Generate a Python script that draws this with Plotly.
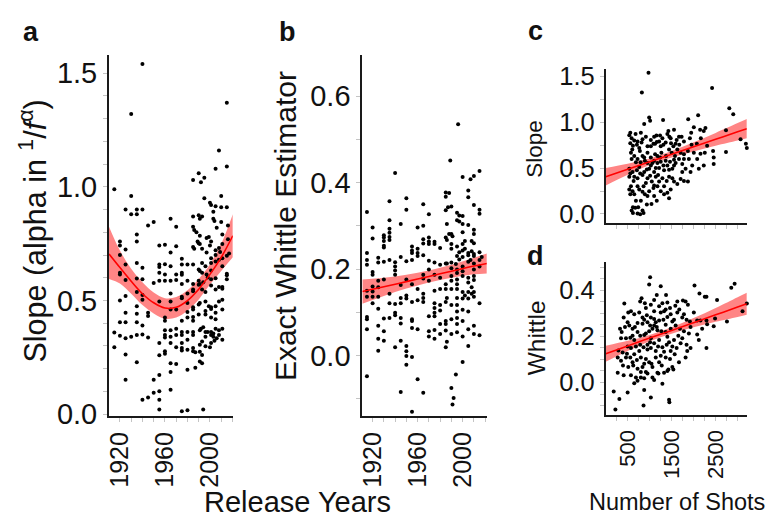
import plotly.graph_objects as go

FONT = "Liberation Sans, Arial, Helvetica, sans-serif"
INK = "#111111"

# ---------------- panel a : release year vs slope ----------------
a_year = [1940,1930,2015,1915,1930,2008,2015,2005,1990,1985,1995,1992,1995,2010,2000,2001,2005,2010,2015,1925,
          1935,1940,1930,1935,2003,1985,1990,1993,1991,2003,2004,2010,1965,1970,1945,1950,1985,1986,1988,1991,
          2006,2011,2016,1935,1920,1935,1997,1999,2001,2016,1989,
          1920,1925,1955,1960,1970,1965,1985,1986,1990,1991,1993,2000,2005,2008,2009,2011,2017,2015,
          1920,1920,1920,1925,1935,1940,1955,1955,1960,1965,1975,1975,1980,1985,1990,1993,1996,1997,2001,2001,
          2005,2005,2008,2011,2011,2001,1993,1991,2015,2015,2015,1998,1997,1975,1975,1970,1970,1965,1955,1960,
          1925,1935,1940,1950,1955,1960,1975,1980,1985,1990,1990,1991,1994,2001,2001,2005,2008,2011,2011,2005,
          1996,1993,1985,1985,1980,1975,1965,1940,1935,
          1920,1925,1935,1940,1945,1945,1955,1965,1965,1970,1975,1980,1980,1985,1985,1990,1991,1996,1996,1999,
          2001,2005,2005,2008,2011,2011,2001,
          1920,1925,1925,1935,1935,1940,1960,1960,1965,1970,1975,1980,1985,1985,1990,1991,1992,1994,1996,2001,
          2005,2005,2008,2008,2011,1975,1980,1975,1960,1960,1965,1970,1985,1985,1996,1998,2001,2001,2003,2003,
          2006,1996,
          1915,1920,1925,1930,1935,1940,1945,1955,1960,1965,1975,1975,1980,1980,1985,1987,1991,1993,1996,2000,
          2001,2004,2011,1915,1925,1955,1960,1960,1970,1975,1985,1991,1993,1991,1993,1935,1965,1970,
          1925,1955,1965,1950,1980,1987,1940,1945,1950,1955,1955,1965,1955,1975,1980,1994]
a_slope = [1.54,1.32,1.37,0.99,0.96,1.16,1.09,1.08,1.06,1.03,1.04,1.02,0.95,0.96,0.93,0.92,0.915,0.91,0.91,0.90,
           0.90,0.90,0.88,0.88,0.89,0.87,0.875,0.87,0.86,0.86,0.85,0.845,0.86,0.825,0.83,0.845,0.825,0.81,0.80,0.785,
           0.82,0.79,0.83,0.79,0.76,0.76,0.775,0.78,0.76,0.77,0.76,
           0.742,0.725,0.742,0.745,0.739,0.711,0.735,0.728,0.752,0.749,0.728,0.742,0.721,0.731,0.714,0.749,0.707,0.697,
           0.700,0.622,0.615,0.658,0.665,0.644,0.658,0.648,0.660,0.651,0.684,0.658,0.658,0.658,0.637,0.665,0.651,0.711,0.686,0.665,
           0.700,0.672,0.679,0.651,0.686,0.632,0.622,0.630,0.618,0.611,0.594,0.601,0.615,0.622,0.613,0.615,0.590,0.587,0.622,0.615,
           0.590,0.597,0.594,0.577,0.587,0.587,0.573,0.587,0.573,0.587,0.569,0.573,0.580,0.594,0.566,0.598,0.559,0.559,0.552,0.548,
           0.538,0.548,0.548,0.541,0.531,0.517,0.531,0.524,0.538,
           0.500,0.520,0.475,0.503,0.446,0.432,0.496,0.496,0.460,0.460,0.510,0.489,0.449,0.460,0.470,0.482,0.489,0.496,0.454,0.475,
           0.470,0.475,0.446,0.496,0.503,0.460,0.463,
           0.404,0.446,0.404,0.442,0.404,0.390,0.425,0.411,0.369,0.376,0.411,0.425,0.428,0.411,0.439,0.369,0.376,0.383,0.439,0.425,
           0.418,0.376,0.369,0.348,0.376,0.362,0.362,0.348,0.369,0.348,0.341,0.348,0.362,0.348,0.362,0.362,0.362,0.348,0.355,0.341,
           0.334,0.341,
           0.359,0.345,0.334,0.341,0.348,0.351,0.337,0.313,0.337,0.313,0.313,0.291,0.327,0.284,0.291,0.273,0.306,0.320,0.299,0.294,
           0.313,0.323,0.327,0.294,0.263,0.259,0.277,0.266,0.294,0.280,0.277,0.275,0.260,0.232,0.224,0.228,0.224,0.221,
           0.151,0.172,0.186,0.151,0.196,0.204,0.063,0.073,0.094,0.101,0.063,0.108,0.021,0.013,0.017,0.021]
a_fit_year = [1910.3, 1920, 1930, 1940, 1950, 1960, 1970, 1980, 1990, 2000, 2010, 2020.3]
a_fit_mean = [0.705, 0.645, 0.585, 0.530, 0.490, 0.467, 0.470, 0.500, 0.550, 0.615, 0.690, 0.785]
a_fit_low  = [0.595, 0.575, 0.530, 0.480, 0.443, 0.420, 0.425, 0.455, 0.505, 0.570, 0.630, 0.690]
a_fit_high = [0.825, 0.720, 0.640, 0.580, 0.535, 0.510, 0.515, 0.545, 0.595, 0.660, 0.750, 0.880]

# ---------------- panel b : release year vs exact Whittle estimator ----------------
b_year = [1996,1989,1940,2000,2015,2010,2007,1915,1920,1920,1935,1935,1950,1950,1965,1970,1945,1960,1965,1985,
          1988,1985,1985,1987,1990,2005,2005,2010,2015,2015,1995,1997,2000,1995,1997,2000,2005,1986,1990,1988,
          1985,1986,1991,2010,2010,2000,2000,2002,2008,2010,1930,1930,1930,1930,1930,1935,1935,1935,1935,1955,
          1955,1955,1960,1960,1965,1965,1970,1970,1970,1975,1975,1980,1990,1990,1995,1997,2000,2002,2005,2008,
          2010,2015,1915,1915,1925,1930,1935,1940,1945,1950,1955,1960,1965,1970,1980,1986,1990,1995,1997,2000,
          2005,2007,2010,2015,2017,
          1915,1925,1975,1985,1994,2005,2010,
          1940,1920,1920,1940,1940,1970,1990,1995,2000,2000,2010,2015,1995,
          1915,1915,1920,1920,1920,1925,1925,1925,1930,1935,1945,1950,1955,1965,1965,1970,1975,1980,1985,1990,
          1990,1995,1995,2000,2005,2005,2008,2010,2010,1990,1980,1985,1975,1965,1965,1960,1950,1950,1945,1995,
          2000,2002,2005,2008,2010,2010,2005,1995,1986,2000,
          1920,1925,1935,1940,1945,1955,1960,1965,1975,1975,1975,1975,1980,1980,1985,1990,1995,1995,2000,2005,
          2015,1915,1915,1930,1935,1940,1940,1945,1945,1955,1955,1970,1985,1985,1990,1995,2000,1995,
          1915,1925,1930,1925,1930,1940,1945,1950,1950,1955,1960,1970,1970,1975,1975,1980,1980,1985,1985,1986,
          1990,1995,2000,2005,2005,2010,2010,2015,1925,
          1915,1945,1950,1955,1960,1965,2000,1994,1990,1992,1991,1955,1950]
b_whittle = [0.535,0.451,0.422,0.413,0.427,0.415,0.408,0.332,0.296,0.271,0.357,0.313,0.364,0.337,0.350,0.327,0.304,0.296,0.300,0.377,
             0.376,0.367,0.336,0.343,0.345,0.382,0.366,0.348,0.337,0.328,0.330,0.324,0.323,0.313,0.310,0.304,0.302,0.304,0.281,0.281,
             0.273,0.267,0.276,0.291,0.281,0.285,0.258,0.265,0.265,0.260,0.278,0.273,0.265,0.254,0.250,0.293,0.284,0.274,0.267,0.252,
             0.243,0.237,0.247,0.237,0.269,0.259,0.273,0.264,0.258,0.263,0.258,0.249,0.258,0.247,0.252,0.239,0.243,0.247,0.237,0.241,
             0.235,0.239,0.237,0.221,0.226,0.217,0.221,0.216,0.228,0.218,0.221,0.230,0.232,0.219,0.210,0.213,0.215,0.230,0.222,0.228,
             0.232,0.221,0.230,0.221,0.228,
             0.210,0.215,0.215,0.213,0.212,0.217,0.213,
             0.206,0.193,0.187,0.197,0.187,0.199,0.202,0.199,0.206,0.195,0.199,0.206,0.191,
             0.150,0.136,0.160,0.148,0.136,0.173,0.158,0.136,0.176,0.143,0.163,0.176,0.165,0.187,0.178,0.173,0.187,0.180,0.165,0.184,
             0.173,0.176,0.165,0.184,0.180,0.169,0.158,0.184,0.175,0.154,0.154,0.154,0.150,0.143,0.133,0.154,0.139,0.132,0.133,0.154,
             0.147,0.139,0.147,0.143,0.136,0.147,0.132,0.133,0.133,0.132,
             0.121,0.108,0.121,0.119,0.121,0.124,0.128,0.124,0.121,0.110,0.099,0.091,0.117,0.104,0.124,0.117,0.117,0.102,0.106,0.102,
             0.121,0.089,0.084,0.086,0.087,0.099,0.093,0.087,0.074,0.084,0.080,0.091,0.080,0.073,0.084,0.087,0.080,0.073,
             0.061,0.069,0.056,0.039,0.034,0.019,0.034,0.022,0.010,0.064,0.061,0.056,0.044,0.059,0.039,0.073,0.050,0.058,0.019,0.032,
             0.050,0.054,0.044,0.061,0.022,0.069,0.050,0.047,0.011,
             -0.048,-0.084,-0.021,-0.003,-0.055,-0.086,-0.015,-0.044,-0.075,-0.098,-0.113,-0.130,-0.001]
b_fit_year = [1910.9, 1930, 1950, 1970, 1990, 2010, 2021.5]
b_fit_mean = [0.148, 0.159, 0.171, 0.183, 0.195, 0.207, 0.213]
b_fit_low  = [0.120, 0.138, 0.155, 0.169, 0.180, 0.188, 0.190]
b_fit_high = [0.176, 0.180, 0.187, 0.197, 0.210, 0.226, 0.236]

# ---------------- panel c : number of shots vs slope ----------------
c_shots = [974,823,2420,2811,2901,989,1011,1305,876,1877,2103,2269,2231,2005,560,680,590,800,1102,1155,
           1237,1426,1403,1554,1667,1727,1915,2148,2164,1945,2736,3067,3188,3210,560,620,816,951,1124,1162,
           1313,1448,1486,1591,1674,1780,1953,2073,575,650,778,838,951,1027,1124,1177,1267,1373,1501,1576,
           1704,1870,2005,2156,2254,2442,2736,605,725,793,951,1027,1102,1177,1252,1365,1403,1554,1667,1780,
           1892,1968,2081,2231,2457,537,612,710,876,989,1102,1215,1328,1441,1554,1742,1930,2118,537,635,
           725,838,951,1049,1139,1215,1290,1388,1516,1629,1870,575,725,861,989,1087,1177,1252,1403,560,
           650,763,891,951,1441,1042,800,620,590,673,620,725,785,861,537,876,1027,1252,725,1441,
           1629,1780,2307,2457,
           537,650,710,763,838,914,1027,1087,1215,1290,1365,1478,1539,1614,590,688,763,891,936,1064,
           1139,1237,1313,1463,1516,1591,1742,1817,560,650,785,914,1011,1102,1192,1328,1441,1554,1704,1780,
           612,688,838,936,1102,1162,1328,1478,740,838]
c_slope = [1.538,1.322,1.370,1.151,1.085,1.050,1.015,1.022,0.980,1.032,1.074,0.935,0.903,0.945,0.883,0.869,0.823,0.883,0.841,0.855,
           0.855,0.903,0.869,0.917,0.841,0.841,0.823,0.917,0.823,0.883,0.910,0.813,0.764,0.719,0.771,0.743,0.778,0.736,0.764,0.782,
           0.754,0.841,0.771,0.764,0.754,0.789,0.754,0.764,0.667,0.632,0.684,0.632,0.667,0.614,0.649,0.632,0.667,0.632,0.667,0.632,
           0.667,0.684,0.667,0.656,0.667,0.684,0.674,0.701,0.597,0.562,0.555,0.527,0.579,0.555,0.569,0.579,0.527,0.590,0.597,0.597,
           0.597,0.527,0.597,0.527,0.545,0.492,0.458,0.475,0.458,0.492,0.458,0.499,0.475,0.482,0.527,0.458,0.458,0.492,0.405,0.360,
           0.388,0.423,0.388,0.353,0.405,0.353,0.388,0.360,0.388,0.325,0.353,0.301,0.301,0.301,0.248,0.283,0.301,0.248,0.231,0.214,
           0.214,0.266,0.214,0.196,0.172,0.109,0.144,0.074,0.039,0.067,0.012,0.005,-0.002,0.012,0.266,0.614,0.736,0.736,0.789,0.701,
           0.701,0.649,0.743,0.614,
           0.858,0.799,0.754,0.719,0.813,0.841,0.806,0.764,0.789,0.823,0.778,0.823,0.736,0.806,0.597,0.562,0.510,0.579,0.485,0.555,
           0.499,0.614,0.527,0.569,0.492,0.555,0.545,0.492,0.440,0.405,0.440,0.336,0.416,0.311,0.423,0.301,0.405,0.353,0.381,0.360,
           0.248,0.144,0.241,0.102,0.196,0.144,0.214,0.266,0.074,0.039]
c_fit_shots = [2, 500, 1000, 1500, 2000, 2500, 3000, 3210]
c_fit_mean  = [0.405, 0.486, 0.568, 0.650, 0.731, 0.812, 0.894, 0.928]
c_fit_low   = [0.310, 0.426, 0.533, 0.615, 0.681, 0.742, 0.799, 0.823]
c_fit_high  = [0.500, 0.546, 0.603, 0.685, 0.781, 0.882, 0.989, 1.033]

# ---------------- panel d : number of shots vs Whittle ----------------
d_shots = [1539,1011,989,1252,816,785,891,424,1373,1162,2020,2133,2254,2292,2533,2856,2932,1757,1817,1870,
           1403,1584,1463,1215,1102,575,514,650,409,326,364,439,499,537,612,665,725,838,876,951,
           1027,1102,1139,1215,1313,1403,1478,1554,1629,1674,1742,1840,1915,2005,2081,2156,2292,2487,2758,3210,
           3225,3112,349,462,560,650,785,876,989,1064,1162,1267,1365,1478,1591,1689,1780,1892,2081,2118,
           2457,2307,289,386,499,575,688,785,861,951,1027,1102,1192,1290,1388,1516,1614,1704,1840,1855,
           1930,2292,274,349,462,560,650,710,800,914,989,1042,1139,1252,1365,1463,1569,1667,1817,394,
           514,627,725,838,914,1064,1177,1275,1403,1516,274,409,575,688,800,951,1064,1200,1328,1426,
           1539,650,725,876,1102,1290,183,311,499,876,1027,1441,1448,861,221,
           914,1027,1290,1328,763,838,1011,1177,1365,1516,1252,1102,914,1027,1215,1403,1554,1742,725,612,
           951,1139,1328,1478,763,484,612,1215,876,800,1011,1441,1652,1930,2194,1780,936,1102,1629,1365]
d_whittle = [0.540,0.457,0.426,0.418,0.366,0.352,0.345,0.343,0.380,0.380,0.422,0.387,0.373,0.373,0.359,0.412,0.429,0.356,0.352,0.338,
             0.348,0.334,0.324,0.331,0.310,0.310,0.304,0.297,0.283,0.234,0.220,0.241,0.262,0.248,0.234,0.241,0.259,0.283,0.273,0.262,
             0.283,0.276,0.262,0.269,0.273,0.285,0.297,0.273,0.304,0.317,0.283,0.273,0.265,0.304,0.269,0.269,0.269,0.278,0.265,0.343,
             0.273,0.310,0.192,0.192,0.195,0.185,0.203,0.206,0.223,0.234,0.241,0.223,0.220,0.234,0.248,0.234,0.223,0.213,0.209,0.185,
             0.245,0.253,0.139,0.130,0.157,0.150,0.157,0.164,0.153,0.164,0.150,0.171,0.157,0.153,0.164,0.157,0.150,0.171,0.164,0.137,
             0.150,0.150,0.109,0.095,0.109,0.109,0.123,0.098,0.109,0.102,0.088,0.081,0.109,0.116,0.109,0.102,0.123,0.088,0.109,0.074,
             0.067,0.074,0.060,0.067,0.046,0.067,0.042,0.074,0.050,0.067,0.042,0.032,0.032,0.022,0.022,0.039,0.022,0.039,0.042,0.056,
             0.056,-0.003,0.008,0.018,0.011,-0.005,-0.039,-0.072,-0.044,-0.033,-0.065,-0.075,-0.086,-0.100,-0.117,
             0.324,0.338,0.345,0.310,0.304,0.255,0.248,0.227,0.251,0.265,0.304,0.248,0.213,0.192,0.185,0.199,0.185,0.192,0.220,0.203,
             0.143,0.137,0.134,0.137,0.137,0.125,0.088,0.088,0.081,0.046,0.175,0.175,0.203,0.241,0.234,0.297,0.292,0.359,0.352,0.317]
d_fit_shots = [2, 500, 1000, 1500, 2000, 2500, 3000, 3210]
d_fit_mean  = [0.125, 0.159, 0.193, 0.226, 0.260, 0.294, 0.328, 0.342]
d_fit_low   = [0.090, 0.137, 0.179, 0.212, 0.240, 0.264, 0.285, 0.294]
d_fit_high  = [0.160, 0.181, 0.207, 0.240, 0.280, 0.324, 0.371, 0.390]

year_ticks = [1920, 1960, 2000]
shot_ticks = [500, 1500, 2500]

fig = go.Figure()


def add_panel(xa, ya, xs, ys, fx, fm, flo, fhi):
    fig.add_trace(go.Scatter(x=fx, y=flo, mode="lines", line=dict(width=0, shape="spline"),
                             hoverinfo="skip", showlegend=False, xaxis=xa, yaxis=ya))
    fig.add_trace(go.Scatter(x=fx, y=fhi, mode="lines", line=dict(width=0, shape="spline"),
                             fill="tonexty", fillcolor="rgba(255,0,0,0.48)",
                             hoverinfo="skip", showlegend=False, xaxis=xa, yaxis=ya))
    fig.add_trace(go.Scatter(x=xs, y=ys, mode="markers", cliponaxis=False,
                             marker=dict(color="black", size=4, line=dict(width=0)),
                             showlegend=False, xaxis=xa, yaxis=ya))
    fig.add_trace(go.Scatter(x=fx, y=fm, mode="lines", line=dict(color="#ff0000", width=1.6, shape="spline"),
                             showlegend=False, xaxis=xa, yaxis=ya))


add_panel("x", "y", a_year, a_slope, a_fit_year, a_fit_mean, a_fit_low, a_fit_high)
add_panel("x2", "y2", b_year, b_whittle, b_fit_year, b_fit_mean, b_fit_low, b_fit_high)
add_panel("x3", "y3", c_shots, c_slope, c_fit_shots, c_fit_mean, c_fit_low, c_fit_high)
add_panel("x4", "y4", d_shots, d_whittle, d_fit_shots, d_fit_mean, d_fit_low, d_fit_high)

TICKC = "#c4c4c4"


def xcfg(domain, anchor, rng, vals, minor, size, show=True):
    return dict(domain=domain, anchor=anchor, range=rng, tickmode="array", tickvals=vals,
                ticktext=[str(v) for v in vals], showticklabels=show, tickangle=-90,
                showline=True, linecolor="#1a1a1a", linewidth=2, showgrid=False, zeroline=False,
                ticks="outside", ticklen=4, tickwidth=1, tickcolor=TICKC,
                minor=dict(dtick=minor, tick0=0, ticks="outside", ticklen=4, tickwidth=1, tickcolor=TICKC, showgrid=False),
                tickfont=dict(family=FONT, size=size, color=INK))


def ycfg(domain, anchor, rng, vals, texts, minor, size):
    return dict(domain=domain, anchor=anchor, range=rng, tickmode="array", tickvals=vals, ticktext=texts,
                showline=True, linecolor="#1a1a1a", linewidth=2, showgrid=False, zeroline=False,
                ticks="outside", ticklen=4, tickwidth=1, tickcolor=TICKC,
                minor=dict(dtick=minor, tick0=0, ticks="outside", ticklen=4, tickwidth=1, tickcolor=TICKC, showgrid=False),
                tickfont=dict(family=FONT, size=size, color=INK))


W, H = 767, 530
ya_dom = [1 - 426 / H, 1 - 50 / H]
fig.update_layout(
    width=W, height=H, margin=dict(l=0, r=0, t=0, b=0),
    paper_bgcolor="white", plot_bgcolor="white", showlegend=False,
    font=dict(family=FONT, color=INK),
    xaxis=xcfg([104.7 / W, 229.3 / W], "y", [1910.3, 2020.3], year_ticks, 10, 25),
    yaxis=ycfg(ya_dom, "x", [-0.0085, 1.58], [0, 0.5, 1.0, 1.5], ["0.0", "0.5", "1.0", "1.5"], 0.1, 29),
    xaxis2=xcfg([359.7 / W, 485 / W], "y2", [1910.9, 2021.5], year_ticks, 10, 25),
    yaxis2=ycfg(ya_dom, "x2", [-0.14, 0.695], [0, 0.2, 0.4, 0.6], ["0.0", "0.2", "0.4", "0.6"], 0.1, 29),
    xaxis3=xcfg([604.7 / W, 746.7 / W], "y3", [2, 3210], shot_ticks, 250, 22, show=False),
    yaxis3=ycfg([1 - 225 / H, 1 - 65 / H], "x3", [-0.099, 1.573], [0, 0.5, 1.0, 1.5], ["0.0", "0.5", "1.0", "1.5"], 0.25, 25.5),
    xaxis4=xcfg([604.7 / W, 746.7 / W], "y4", [2, 3210], shot_ticks, 250, 22),
    yaxis4=ycfg([1 - 425 / H, 1 - 265 / H], "x4", [-0.142, 0.526], [0, 0.2, 0.4], ["0.0", "0.2", "0.4"], 0.05, 25.5),
)


def note(text, px, py, size, bold=False, angle=0):
    fig.add_annotation(text=("<b>%s</b>" % text) if bold else text, x=px / W, y=1 - py / H,
                       xref="paper", yref="paper", xanchor="center", yanchor="middle",
                       showarrow=False, textangle=angle,
                       font=dict(family=FONT, size=size, color=INK))


note("a", 26, 25.6, 27, bold=True)
note("b", 284, 25.6, 27, bold=True)
note("c", 534, 24.5, 27, bold=True)
note("d", 534, 259, 27, bold=True)
note("Slope (alpha in <sup>1</sup>/<i>f</i><sup>α</sup>)", 29, 233, 30.5, angle=-90)
note("Exact Whittle Estimator", 283, 228, 30, angle=-90)
note("Release Years", 294, 515, 29)
note("Slope", 533, 148, 22.5, angle=-90)
note("Whittle", 534.5, 345, 24.5, angle=-90)
note("Number of Shots", 676, 515, 23.5)

fig.write_html("out.html", config={"displayModeBar": False},
               post_script="document.body.style.margin='0';document.body.style.overflow='hidden';")
